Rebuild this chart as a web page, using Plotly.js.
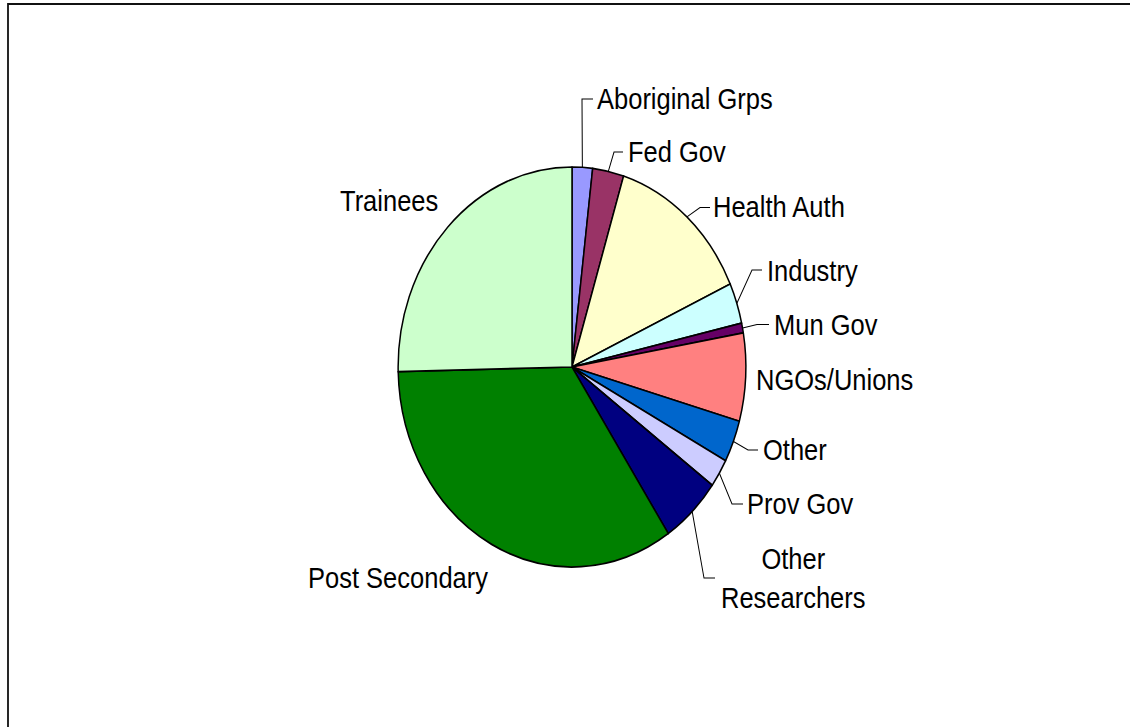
<!DOCTYPE html>
<html>
<head>
<meta charset="utf-8">
<script src="https://cdn.plot.ly/plotly-3.0.1.min.js"></script>
<style>
  html, body { margin: 0; padding: 0; background: #ffffff; }
  #wrap { width: 1130px; height: 727px; overflow: hidden; position: relative; }
  #chart { position: absolute; left: 0; top: 0; width: 1130px; height: 632px;
           transform: scaleY(1.150316); transform-origin: 0 0; }
</style>
</head>
<body>
<div id="wrap"><div id="chart"></div></div>
<script>
// ---- data ----
const categories = ["Aboriginal Grps", "Fed Gov", "Health Auth", "Industry", "Mun Gov",
                    "NGOs/Unions", "Other", "Prov Gov", "Other Researchers",
                    "Post Secondary", "Trainees"];
const shares = [1.9, 2.9, 13.4, 3.3, 0.8, 7.1, 3.4, 2.3, 5.6, 34.0, 25.4];
const sliceColors = ["#9999FF", "#993366", "#FFFFCC", "#CCFFFF", "#660066",
                     "#FF8080", "#0066CC", "#CCCCFF", "#000080", "#008000", "#CCFFCC"];
const labelTexts = ["Aboriginal Grps", "Fed Gov", "Health Auth", "Industry", "Mun Gov",
                    "NGOs/Unions", "Other", "Prov Gov", "Other<br>Researchers",
                    "Post Secondary", "Trainees"];

// ---- layout helpers (reference pixel positions -> paper fractions) ----
const W = 1130, H = 727;
const PX = x => x / W;
const PY = y => 1 - y / H;

// label placement: [x, y, xanchor]
const labelPos = [
  [597, 99, "left"], [628, 152, "left"], [713, 207.5, "left"], [767, 270, "left"],
  [774, 324.5, "left"], [756, 380, "left"], [763, 450, "left"], [747, 504, "left"],
  [793, 578.5, "center"], [308, 578, "left"], [340, 200, "left"]
];
// leader lines: [elbowX, elbowY, endX] (null = no leader)
const leaders = [
  [582, 99, 593], [614, 152, 623], [700, 207.5, 710], [752, 270, 762],
  [757, 324.5, 769], null, [748, 450, 758], [732, 504, 743],
  [704, 578, 715], null, null
];

const domX = [398 / W, 746 / W];
const domY = [PY(567), PY(167)];

// pie geometry in reference pixels (for leader starts at slice mid-angles)
const cxR = (domX[0] + domX[1]) / 2 * W;
const cyR = (1 - (domY[0] + domY[1]) / 2) * H;
const rxR = (domX[1] - domX[0]) / 2 * W;
const ryR = (domY[1] - domY[0]) / 2 * H;

const total = shares.reduce((a, b) => a + b, 0);
let cum = 0;
const shapes = [];
shares.forEach((v, i) => {
  const mid = (cum + v / 2) / total * 2 * Math.PI;
  cum += v;
  const L = leaders[i];
  if (!L) return;
  const sx = cxR + rxR * Math.sin(mid);
  const sy = cyR - ryR * Math.cos(mid);
  shapes.push({
    type: "path", xref: "paper", yref: "paper",
    path: `M ${PX(sx)},${PY(sy)} L ${PX(L[0])},${PY(L[1])} L ${PX(L[2])},${PY(L[1])}`,
    line: { color: "#000000", width: 1 }
  });
});
// outer chart frame (only top and left edges visible in the picture)
shapes.push({
  type: "rect", xref: "paper", yref: "paper",
  x0: PX(8), x1: 1.05, y0: -0.05, y1: PY(4),
  line: { color: "#111111", width: 1.8 }, fillcolor: "rgba(0,0,0,0)"
});

const annotations = labelTexts.map((t, i) => ({
  text: t, xref: "paper", yref: "paper",
  x: PX(labelPos[i][0]), y: PY(labelPos[i][1]),
  xanchor: labelPos[i][2], yanchor: "middle",
  showarrow: false, align: "center", borderpad: 0, borderwidth: 0,
  font: { family: "Liberation Sans, Arial, sans-serif", size: 25.5, color: "#000000" }
}));

const trace = {
  type: "pie",
  labels: categories,
  values: shares,
  sort: false,
  direction: "clockwise",
  rotation: 0,
  textinfo: "none",
  hoverinfo: "none",
  showlegend: false,
  domain: { x: domX, y: domY },
  marker: { colors: sliceColors, line: { color: "#000000", width: 1.5 } }
};

const layout = {
  width: 1130, height: 632,
  margin: { l: 0, r: 0, t: 0, b: 0, pad: 0 },
  paper_bgcolor: "#ffffff",
  plot_bgcolor: "#ffffff",
  showlegend: false,
  shapes: shapes,
  annotations: annotations,
  font: { family: "Liberation Sans, Arial, sans-serif" }
};

Plotly.newPlot("chart", [trace], layout, { staticPlot: true, displayModeBar: false });
</script>
</body>
</html>
